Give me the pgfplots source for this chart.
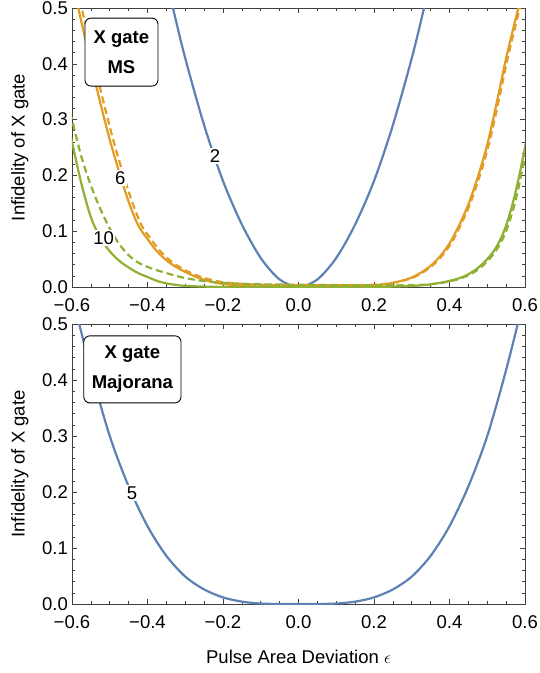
\documentclass[border=0pt]{standalone}
\usepackage{pgfplots}
\pgfplotsset{compat=1.18}
\usepackage{fontspec}
\setmainfont{Liberation Sans}
\definecolor{mblue}{HTML}{5E81B5}
\definecolor{morange}{HTML}{E19C24}
\definecolor{mgreen}{HTML}{8FB032}
\pgfplotsset{
  mstyle/.style={
    scale only axis, width=453pt,
    xmin=-0.6, xmax=0.6, ymin=0, ymax=0.5,
    xtick={-0.6,-0.4,-0.2,0,0.2,0.4,0.6},
    xticklabels={−0.6,−0.4,−0.2,0.0,0.2,0.4,0.6},
    ytick={0,0.1,0.2,0.3,0.4,0.5},
    yticklabels={0.0,0.1,0.2,0.3,0.4,0.5},
    minor x tick num=3, minor y tick num=4,
    tick align=inside,
    major tick length=5pt, minor tick length=3pt,
    every tick/.style={black!75, line width=0.6pt},
    axis line style={black!75, line width=0.8pt},
    tick label style={font=\fontsize{18.5}{22}\selectfont},
    xticklabel style={inner sep=0pt, yshift=-11pt},
    yticklabel style={inner sep=0pt, xshift=-4pt},
    every axis y label/.style={at={(axis description cs:-0.115,0.5)}, rotate=90, anchor=center, font=\fontsize{18.5}{22}\selectfont},
    every axis x label/.style={at={(axis description cs:0.5,-0.19)}, anchor=center, font=\fontsize{18.5}{22}\selectfont},
    ylabel={Infidelity of X gate},
    clip=true,
  },
  crv/.style={line width=2.2pt, smooth, tension=0.5},
  dsh/.style={dash pattern=on 7pt off 4pt},
}
\tikzset{
  lbl/.style={fill=white, inner sep=1.5pt, font=\fontsize{18.5}{22}\selectfont},
  box/.style={draw=black, fill=white, rounded corners=6pt, line width=0.9pt, align=center,
    font=\fontsize{18.5}{30}\selectfont\bfseries, inner xsep=8pt, inner ysep=6pt},
}
\begin{document}
\begin{tikzpicture}
\path[use as bounding box] (-72pt,8pt) rectangle (468pt,-665pt);
\begin{axis}[mstyle, height=279pt, at={(0,0)}, anchor=north west]
% blue 2
\addplot[crv, mblue] coordinates {
(-0.37,0.61) (-0.3325,0.5) (-0.3,0.41) (-0.25,0.29) (-0.2,0.19) (-0.15,0.112) (-0.1,0.052) (-0.05,0.0135) (0,0)
(0.05,0.0135) (0.1,0.052) (0.15,0.112) (0.2,0.19) (0.25,0.29) (0.3,0.41) (0.3325,0.5) (0.37,0.61)};
% orange 6 solid
\addplot[crv, morange] coordinates {
(-0.625,0.63) (-0.6,0.55) (-0.575,0.475) (-0.55,0.40) (-0.525,0.33) (-0.5,0.264) (-0.475,0.206) (-0.45,0.153)
(-0.425,0.111) (-0.4,0.086) (-0.375,0.064) (-0.35,0.048) (-0.325,0.036) (-0.3,0.027) (-0.275,0.019) (-0.25,0.013)
(-0.225,0.0085) (-0.2,0.0055) (-0.15,0.002) (-0.1,0.0007) (-0.05,0.0002) (0,0.0001)
(0.05,0.0001) (0.1,0.0004) (0.15,0.0012) (0.2,0.003) (0.225,0.0048) (0.25,0.0075) (0.275,0.0115) (0.3,0.017)
(0.325,0.026) (0.35,0.038) (0.375,0.055) (0.4,0.078) (0.425,0.11) (0.45,0.148) (0.475,0.197) (0.5,0.255)
(0.525,0.33) (0.55,0.41) (0.575,0.48) (0.6,0.549) (0.625,0.62)};
% orange 6 dashed
\addplot[crv, dsh, morange] coordinates {
(-0.616,0.63) (-0.591,0.55) (-0.566,0.475) (-0.541,0.40) (-0.516,0.33) (-0.491,0.264) (-0.466,0.206) (-0.441,0.153)
(-0.416,0.111) (-0.391,0.086) (-0.366,0.064) (-0.341,0.048) (-0.316,0.036) (-0.291,0.027) (-0.266,0.02) (-0.241,0.0145)
(-0.216,0.0105) (-0.191,0.0078) (-0.141,0.0052) (-0.1,0.0042) (-0.05,0.0037) (0,0.0035)
(0.05,0.0034) (0.1,0.0034) (0.15,0.0035) (0.2,0.0042) (0.229,0.0055) (0.254,0.0078) (0.279,0.0115) (0.304,0.017)
(0.329,0.026) (0.354,0.038) (0.379,0.055) (0.404,0.078) (0.429,0.11) (0.454,0.148) (0.479,0.197) (0.504,0.255)
(0.529,0.33) (0.554,0.41) (0.579,0.48) (0.604,0.549) (0.629,0.62)};
% green 10 solid
\addplot[crv, mgreen] coordinates {
(-0.625,0.34) (-0.6,0.26) (-0.575,0.185) (-0.55,0.125) (-0.525,0.088) (-0.5,0.064) (-0.475,0.047) (-0.45,0.035)
(-0.425,0.025) (-0.4,0.018) (-0.375,0.011) (-0.35,0.0065) (-0.325,0.0038) (-0.3,0.002) (-0.25,0.0007) (-0.2,0.0002)
(-0.1,0.0001) (0,0.0001) (0.1,0.0001) (0.2,0.0002) (0.25,0.0007) (0.3,0.0018) (0.325,0.003) (0.35,0.0048)
(0.375,0.0075) (0.4,0.011) (0.425,0.0155) (0.45,0.023) (0.475,0.034) (0.5,0.05) (0.525,0.0725) (0.55,0.11)
(0.575,0.17) (0.6,0.25) (0.625,0.34)};
% green 10 dashed
\addplot[crv, dsh, mgreen] coordinates {
(-0.625,0.37) (-0.6,0.30) (-0.575,0.233) (-0.55,0.182) (-0.525,0.14) (-0.5,0.105) (-0.475,0.077) (-0.45,0.057)
(-0.425,0.044) (-0.4,0.036) (-0.375,0.03) (-0.35,0.025) (-0.325,0.02) (-0.3,0.016) (-0.25,0.0105) (-0.2,0.0075)
(-0.15,0.0058) (-0.1,0.0048) (0,0.004) (0.1,0.0035) (0.2,0.003) (0.3,0.0032) (0.35,0.005) (0.375,0.007)
(0.4,0.01) (0.425,0.0145) (0.45,0.021) (0.475,0.031) (0.5,0.046) (0.525,0.067) (0.55,0.1) (0.575,0.155)
(0.6,0.235) (0.625,0.33)};
\node[lbl] at (axis cs:-0.221,0.234) {2};
\node[lbl] at (axis cs:-0.472,0.1955) {6};
\node[lbl] at (axis cs:-0.516,0.0876) {10};
\node[box, minimum width=73pt, minimum height=68pt] at (axis cs:-0.469,0.421) {X gate\\MS};
\end{axis}
\begin{axis}[mstyle, height=280pt, at={(0,-316pt)}, anchor=north west, xlabel={Pulse Area Deviation $\epsilon$}]
\addplot[crv, mblue] coordinates {
(-0.625,0.62) (-0.6,0.552) (-0.55,0.418) (-0.5,0.30) (-0.45,0.21) (-0.4,0.139) (-0.35,0.086) (-0.3,0.049)
(-0.25,0.026) (-0.2,0.0118) (-0.15,0.0042) (-0.1,0.0008) (-0.05,0.0001) (0,0)
(0.05,0.0001) (0.1,0.0008) (0.15,0.0042) (0.2,0.0118) (0.25,0.026) (0.3,0.049) (0.35,0.086) (0.4,0.139)
(0.45,0.21) (0.5,0.30) (0.55,0.418) (0.6,0.552) (0.625,0.62)};
\node[lbl] at (axis cs:-0.441,0.198) {5};
\node[box, minimum width=97pt, minimum height=67pt] at (axis cs:-0.44,0.419) {X gate\\Majorana};
\end{axis}
\end{tikzpicture}
\end{document}
